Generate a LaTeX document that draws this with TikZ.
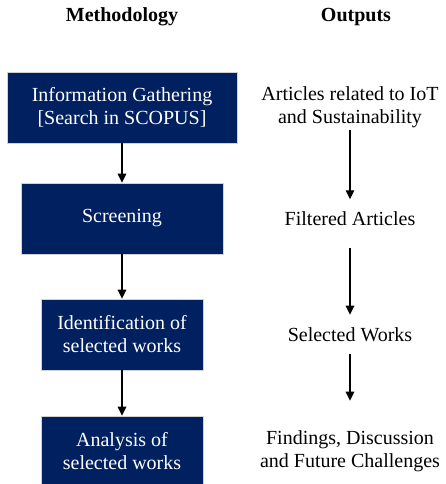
\documentclass[tikz,border=0pt]{standalone}
\usepackage{fontspec}
\setmainfont{Liberation Serif}
\usetikzlibrary{arrows.meta}
\definecolor{navy}{HTML}{002060}
\begin{document}
\begin{tikzpicture}[x=1pt,y=-1pt,
  every node/.style={font=\fontsize{20}{23}\selectfont, align=center, inner sep=0pt},
  stepbox/.style={rectangle, fill=navy, draw=gray!35, line width=0.6pt, text=white, minimum height=71pt},
  head/.style={font=\fontsize{20}{23}\selectfont\bfseries},
  flow/.style={line width=1.3pt, -{Triangle[length=9pt,width=8.5pt]}}]
\useasboundingbox (0,0) rectangle (446,484);

% column headings
\node[head] (hm) at (122,17) {Methodology};
\node[head] (ho) at (356,17) {Outputs};

% methodology steps
\node[stepbox, minimum width=230pt] (s1) at (122,107.5) {Information Gathering\\{[Search in SCOPUS]}};
\node[stepbox, minimum width=202pt] (s2) at (122,218.5) {Screening};
\node[stepbox, minimum width=162pt] (s3) at (122,334.5) {Identification of\\selected works};
\node[stepbox, minimum width=162pt] (s4) at (122,451.5) {Analysis of\\selected works};

% outputs
\node (o1) at (350,107.5) {Articles related to IoT\\and Sustainability};
\node (o2) at (350,218.5) {Filtered Articles};
\node (o3) at (350,335) {Selected Works};
\node (o4) at (350,451.5) {Findings, Discussion\\and Future Challenges};

% connectors
\draw[flow, shorten <=2pt, shorten >=12pt] (o1) -- (o2);
\draw[flow, shorten <=22pt, shorten >=13pt] (o2) -- (o3);
\draw[flow, shorten <=12pt, shorten >=30pt] (o3) -- (o4);
\draw[flow] (s1) -- (s2);
\draw[flow] (s2) -- (s3);
\draw[flow] (s3) -- (s4);
\end{tikzpicture}
\end{document}
